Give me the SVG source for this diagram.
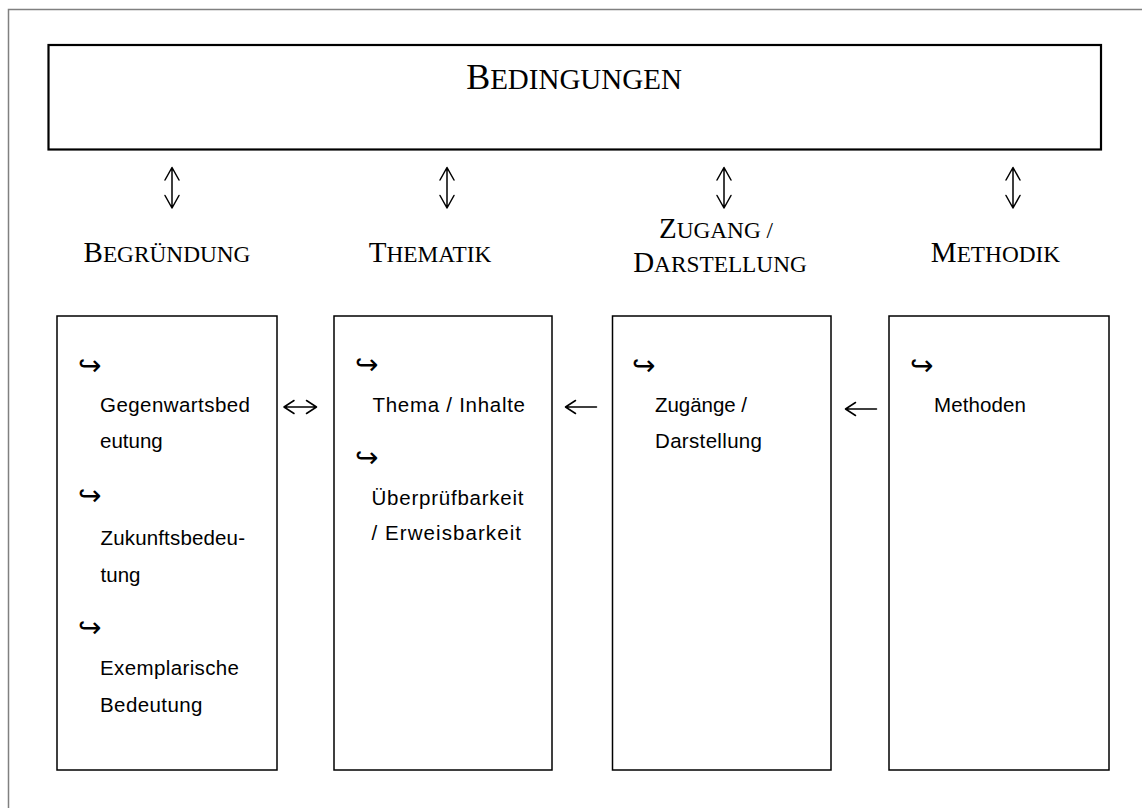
<svg xmlns="http://www.w3.org/2000/svg" width="1142" height="808" viewBox="0 0 1142 808">
<style>
.frame{fill:none;stroke:#808080;stroke-width:1.5}
.top{fill:#fff;stroke:#000;stroke-width:2.2}
.box{fill:#fff;stroke:#000;stroke-width:1.5}
.head{font-family:"Liberation Serif","Times New Roman",serif;fill:#000;text-anchor:middle}
.big{font-size:29px}
.sc{font-size:23.3px}
.item{font-family:"Liberation Sans",Arial,sans-serif;font-size:20.5px;fill:#000}
.hook{font-family:"DejaVu Sans",sans-serif;font-size:28px;fill:#000}
.arr{fill:none;stroke:#000;stroke-width:1.5;stroke-linecap:round;stroke-linejoin:round}
</style>
<rect width="1142" height="808" fill="#fff"/>
<path class="frame" d="M8.5,808 V9.5 H1142"/>

<g id="bedingungen">
<rect class="top" x="48.5" y="45" width="1052.5" height="104.5"/>
<text class="head" x="574" y="89"><tspan font-size="36px">B</tspan><tspan font-size="29px">EDINGUNGEN</tspan></text>
</g>

<g id="begruendung-label">
<text class="head" x="167" y="262"><tspan class="big">B</tspan><tspan class="sc">EGRÜNDUNG</tspan></text>
</g>
<g id="thematik-label">
<text class="head" x="430" y="262"><tspan class="big">T</tspan><tspan class="sc">HEMATIK</tspan></text>
</g>
<g id="zugang-label">
<text class="head" x="716" y="238"><tspan class="big">Z</tspan><tspan class="sc">UGANG / </tspan></text>
<text class="head" x="720" y="272"><tspan class="big">D</tspan><tspan class="sc">ARSTELLUNG</tspan></text>
</g>
<g id="methodik-label">
<text class="head" x="995.5" y="262"><tspan class="big">M</tspan><tspan class="sc">ETHODIK</tspan></text>
</g>

<g id="box-begruendung">
<rect class="box" x="57" y="316" width="220" height="454"/>
<text class="hook" x="78" y="375">↪</text>
<text class="item" x="100" y="412" textLength="150">Gegenwartsbed</text>
<text class="item" x="100" y="448" textLength="62.7">eutung</text>
<text class="hook" x="78" y="505">↪</text>
<text class="item" x="100.5" y="545" textLength="144.5">Zukunftsbedeu-</text>
<text class="item" x="100.5" y="582" textLength="40">tung</text>
<text class="hook" x="78" y="637">↪</text>
<text class="item" x="100" y="675" textLength="139">Exemplarische</text>
<text class="item" x="100" y="712" textLength="102.5">Bedeutung</text>
</g>

<g id="box-thematik">
<rect class="box" x="334" y="316" width="218" height="454"/>
<text class="hook" x="355" y="374">↪</text>
<text class="item" x="372.5" y="412" textLength="152.5">Thema / Inhalte</text>
<text class="hook" x="355" y="467">↪</text>
<text class="item" x="371.5" y="505" textLength="152">Überprüfbarkeit</text>
<text class="item" x="371.5" y="540" textLength="149.5">/ Erweisbarkeit</text>
</g>

<g id="box-zugang">
<rect class="box" x="612.5" y="316" width="218.5" height="454"/>
<text class="hook" x="632" y="375">↪</text>
<text class="item" x="655" y="412" textLength="92">Zugänge /</text>
<text class="item" x="655" y="448" textLength="107">Darstellung</text>
</g>

<g id="box-methodik">
<rect class="box" x="889" y="316" width="220" height="454"/>
<text class="hook" x="910" y="375">↪</text>
<text class="item" x="934" y="412" textLength="92">Methoden</text>
</g>

<g id="connectors">
<path class="arr" d="M172,167.5 V208 M165,180 L172,167.5 L179,180 M165,195.5 L172,208 L179,195.5"/>
<path class="arr" d="M447,167.5 V208 M440,180 L447,167.5 L454,180 M440,195.5 L447,208 L454,195.5"/>
<path class="arr" d="M724,167.5 V208 M717,180 L724,167.5 L731,180 M717,195.5 L724,208 L731,195.5"/>
<path class="arr" d="M1013,167.5 V208 M1006,180 L1013,167.5 L1020,180 M1006,195.5 L1013,208 L1020,195.5"/>
<path class="arr" d="M284,407 H316.5 M294,400.5 L284,407 L294,413.5 M306.5,400.5 L316.5,407 L306.5,413.5"/>
<path class="arr" d="M565.5,407 H596.5 M575.5,400.5 L565.5,407 L575.5,413.5"/>
<path class="arr" d="M845.5,409 H876.5 M855.5,402.5 L845.5,409 L855.5,415.5"/>
</g>
</svg>
